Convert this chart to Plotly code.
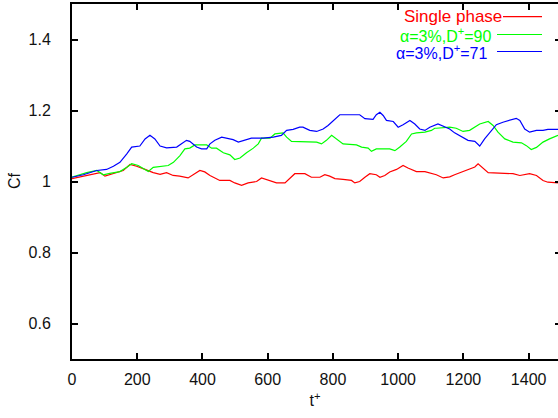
import plotly.graph_objects as go

# Skin-friction coefficient history Cf vs t+
t_single = [0, 54, 86, 101, 127, 157, 178, 198, 224, 249, 270, 290, 310, 330, 356, 377,
            392, 407, 423, 453, 484, 499, 520, 540, 566, 581, 607, 627, 653, 668, 683, 714,
            734, 760, 775, 790, 806, 831, 857, 867, 882, 898, 913, 933, 944, 959, 974, 995,
            1015, 1030, 1041, 1056, 1082, 1102, 1117, 1138, 1158, 1173, 1194, 1219, 1235,
            1245, 1260, 1276, 1352, 1373, 1403, 1424, 1444, 1459, 1490]
cf_single = [1.008, 1.019, 1.025, 1.015, 1.022, 1.031, 1.048, 1.043, 1.034, 1.025, 1.020,
             1.025, 1.017, 1.015, 1.010, 1.022, 1.031, 1.027, 1.017, 1.003, 1.003, 0.996,
             0.989, 0.996, 1.000, 1.010, 1.003, 0.996, 0.996, 1.010, 1.022, 1.022, 1.012,
             1.012, 1.019, 1.015, 1.008, 1.006, 1.003, 0.996, 1.000, 1.012, 1.022, 1.019,
             1.012, 1.017, 1.027, 1.034, 1.045, 1.038, 1.034, 1.028, 1.028, 1.022, 1.019,
             1.010, 1.013, 1.019, 1.027, 1.036, 1.041, 1.050, 1.038, 1.025, 1.022, 1.017,
             1.022, 1.017, 1.003, 0.998, 0.996]

t_d90 = [0, 45, 76, 96, 116, 147, 168, 183, 203, 234, 249, 295, 311, 331, 346, 361,
         377, 413, 428, 443, 464, 484, 499, 515, 535, 556, 571, 581, 607, 622, 647, 658,
         673, 709, 729, 750, 765, 780, 796, 811, 831, 872, 888, 908, 918, 933, 974, 990,
         1005, 1025, 1041, 1056, 1082, 1102, 1112, 1117, 1158, 1178, 1199, 1219, 1235,
         1250, 1276, 1291, 1306, 1327, 1352, 1378, 1393, 1408, 1424, 1444, 1464, 1490]
cf_d90 = [1.012, 1.025, 1.031, 1.019, 1.023, 1.028, 1.040, 1.050, 1.045, 1.028, 1.040,
          1.045, 1.054, 1.073, 1.092, 1.094, 1.103, 1.103, 1.094, 1.094, 1.081, 1.075,
          1.062, 1.066, 1.081, 1.094, 1.106, 1.122, 1.122, 1.134, 1.137, 1.125, 1.113,
          1.113, 1.111, 1.111, 1.106, 1.116, 1.130, 1.120, 1.106, 1.103, 1.097, 1.094,
          1.085, 1.092, 1.092, 1.087, 1.097, 1.113, 1.134, 1.137, 1.139, 1.144, 1.150,
          1.150, 1.153, 1.150, 1.141, 1.144, 1.153, 1.162, 1.169, 1.158, 1.139, 1.120,
          1.111, 1.109, 1.101, 1.090, 1.096, 1.111, 1.120, 1.130]

t_d71 = [0, 35, 76, 106, 127, 147, 168, 183, 208, 224, 239, 254, 270, 290, 321, 336,
         351, 361, 382, 397, 413, 423, 438, 459, 494, 510, 530, 550, 586, 617, 642, 658,
         678, 698, 708, 729, 750, 770, 785, 801, 821, 841, 882, 898, 923, 933, 944, 954,
         964, 985, 1000, 1015, 1036, 1051, 1066, 1082, 1097, 1122, 1138, 1158, 1173, 1194,
         1214, 1235, 1250, 1265, 1286, 1301, 1321, 1342, 1362, 1373, 1388, 1403, 1424,
         1444, 1459, 1490]
cf_d71 = [1.012, 1.019, 1.031, 1.034, 1.043, 1.054, 1.078, 1.097, 1.100, 1.120, 1.130,
          1.120, 1.100, 1.095, 1.097, 1.106, 1.116, 1.113, 1.097, 1.092, 1.092, 1.106,
          1.116, 1.125, 1.118, 1.111, 1.116, 1.122, 1.122, 1.125, 1.130, 1.144, 1.147,
          1.153, 1.153, 1.144, 1.141, 1.148, 1.158, 1.172, 1.188, 1.188, 1.188, 1.177,
          1.175, 1.188, 1.195, 1.186, 1.172, 1.169, 1.153, 1.160, 1.172, 1.162, 1.148,
          1.144, 1.153, 1.162, 1.155, 1.148, 1.137, 1.125, 1.116, 1.113, 1.100, 1.120,
          1.144, 1.160, 1.167, 1.172, 1.178, 1.172, 1.148, 1.139, 1.144, 1.144, 1.147,
          1.147]

x_ticks = [0, 200, 400, 600, 800, 1000, 1200, 1400]
y_ticks = [0.6, 0.8, 1.0, 1.2, 1.4]
y_tick_text = ["0.6", "0.8", "1", "1.2", "1.4"]

series = [
    ("Single phase", t_single, cf_single, "#ff0000"),
    ("α=3%,D<sup>+</sup>=90", t_d90, cf_d90, "#00ff00"),
    ("α=3%,D<sup>+</sup>=71", t_d71, cf_d71, "#0000ff"),
]

FONT = "Liberation Sans, Arial, sans-serif"
W, H = 558, 418
ML, MR, MT, MB = 72, 0, 4, 59
PW, PH = W - ML - MR, H - MT - MB

fig = go.Figure()
for name, t, cf, color in series:
    fig.add_trace(go.Scatter(x=t, y=cf, mode="lines", name=name,
                             line=dict(color=color, width=1.2), showlegend=False))

# helper trace so the right-hand tick axis is drawn
fig.add_trace(go.Scatter(x=[None], y=[None], yaxis="y2", showlegend=False,
                         hoverinfo="skip"))

# gnuplot-style key: right-justified text followed by a line sample
key_rows = [(16.7, 504, 503, 17), (34.5, 494, 497, 16), (51.5, 490, 497, 16)]
for (name, _, _, color), (py, tx, lx0, fs) in zip(series, key_rows):
    yp = (H - MB - py) / PH
    fig.add_annotation(xref="paper", yref="paper", x=(tx - ML) / PW, y=yp,
                       xanchor="right", yanchor="middle", showarrow=False,
                       text=name, font=dict(family=FONT, size=fs, color=color))
    fig.add_shape(type="line", xref="paper", yref="paper",
                  x0=(lx0 - ML) / PW, x1=(542 - ML) / PW, y0=yp, y1=yp,
                  line=dict(color=color, width=1.2))

# y-axis label
fig.add_annotation(xref="paper", yref="paper", x=(14 - ML) / PW, y=(H - MB - 181) / PH,
                   xanchor="center", yanchor="middle", showarrow=False, textangle=-90,
                   text="Cf", font=dict(family=FONT, size=16, color="#111"))

axis_common = dict(showgrid=False, zeroline=False, showline=True, linecolor="black",
                   linewidth=2, ticks="inside", ticklen=6, tickcolor="black",
                   tickwidth=1.5, tickfont=dict(family=FONT, size=16, color="#111"))

fig.update_layout(
    width=W, height=H,
    margin=dict(l=ML, r=MR, t=MT, b=MB, pad=0),
    plot_bgcolor="white", paper_bgcolor="white",
    xaxis=dict(range=[0, 1490], tickvals=x_ticks, mirror="ticks",
               ticklabelstandoff=5,
               title=dict(text="t<sup>+</sup>", standoff=8,
                          font=dict(family=FONT, size=16, color="#111")),
               **axis_common),
    yaxis=dict(range=[0.5, 1.5], tickvals=y_ticks, ticktext=y_tick_text,
               ticklabelstandoff=16, **axis_common),
    yaxis2=dict(range=[0.5, 1.5], overlaying="y", side="right", anchor="x",
                tickvals=y_ticks, showticklabels=False, showline=False,
                showgrid=False, zeroline=False, ticks="inside", ticklen=3,
                tickcolor="black", tickwidth=1.5),
)

fig.write_html("out.html")
